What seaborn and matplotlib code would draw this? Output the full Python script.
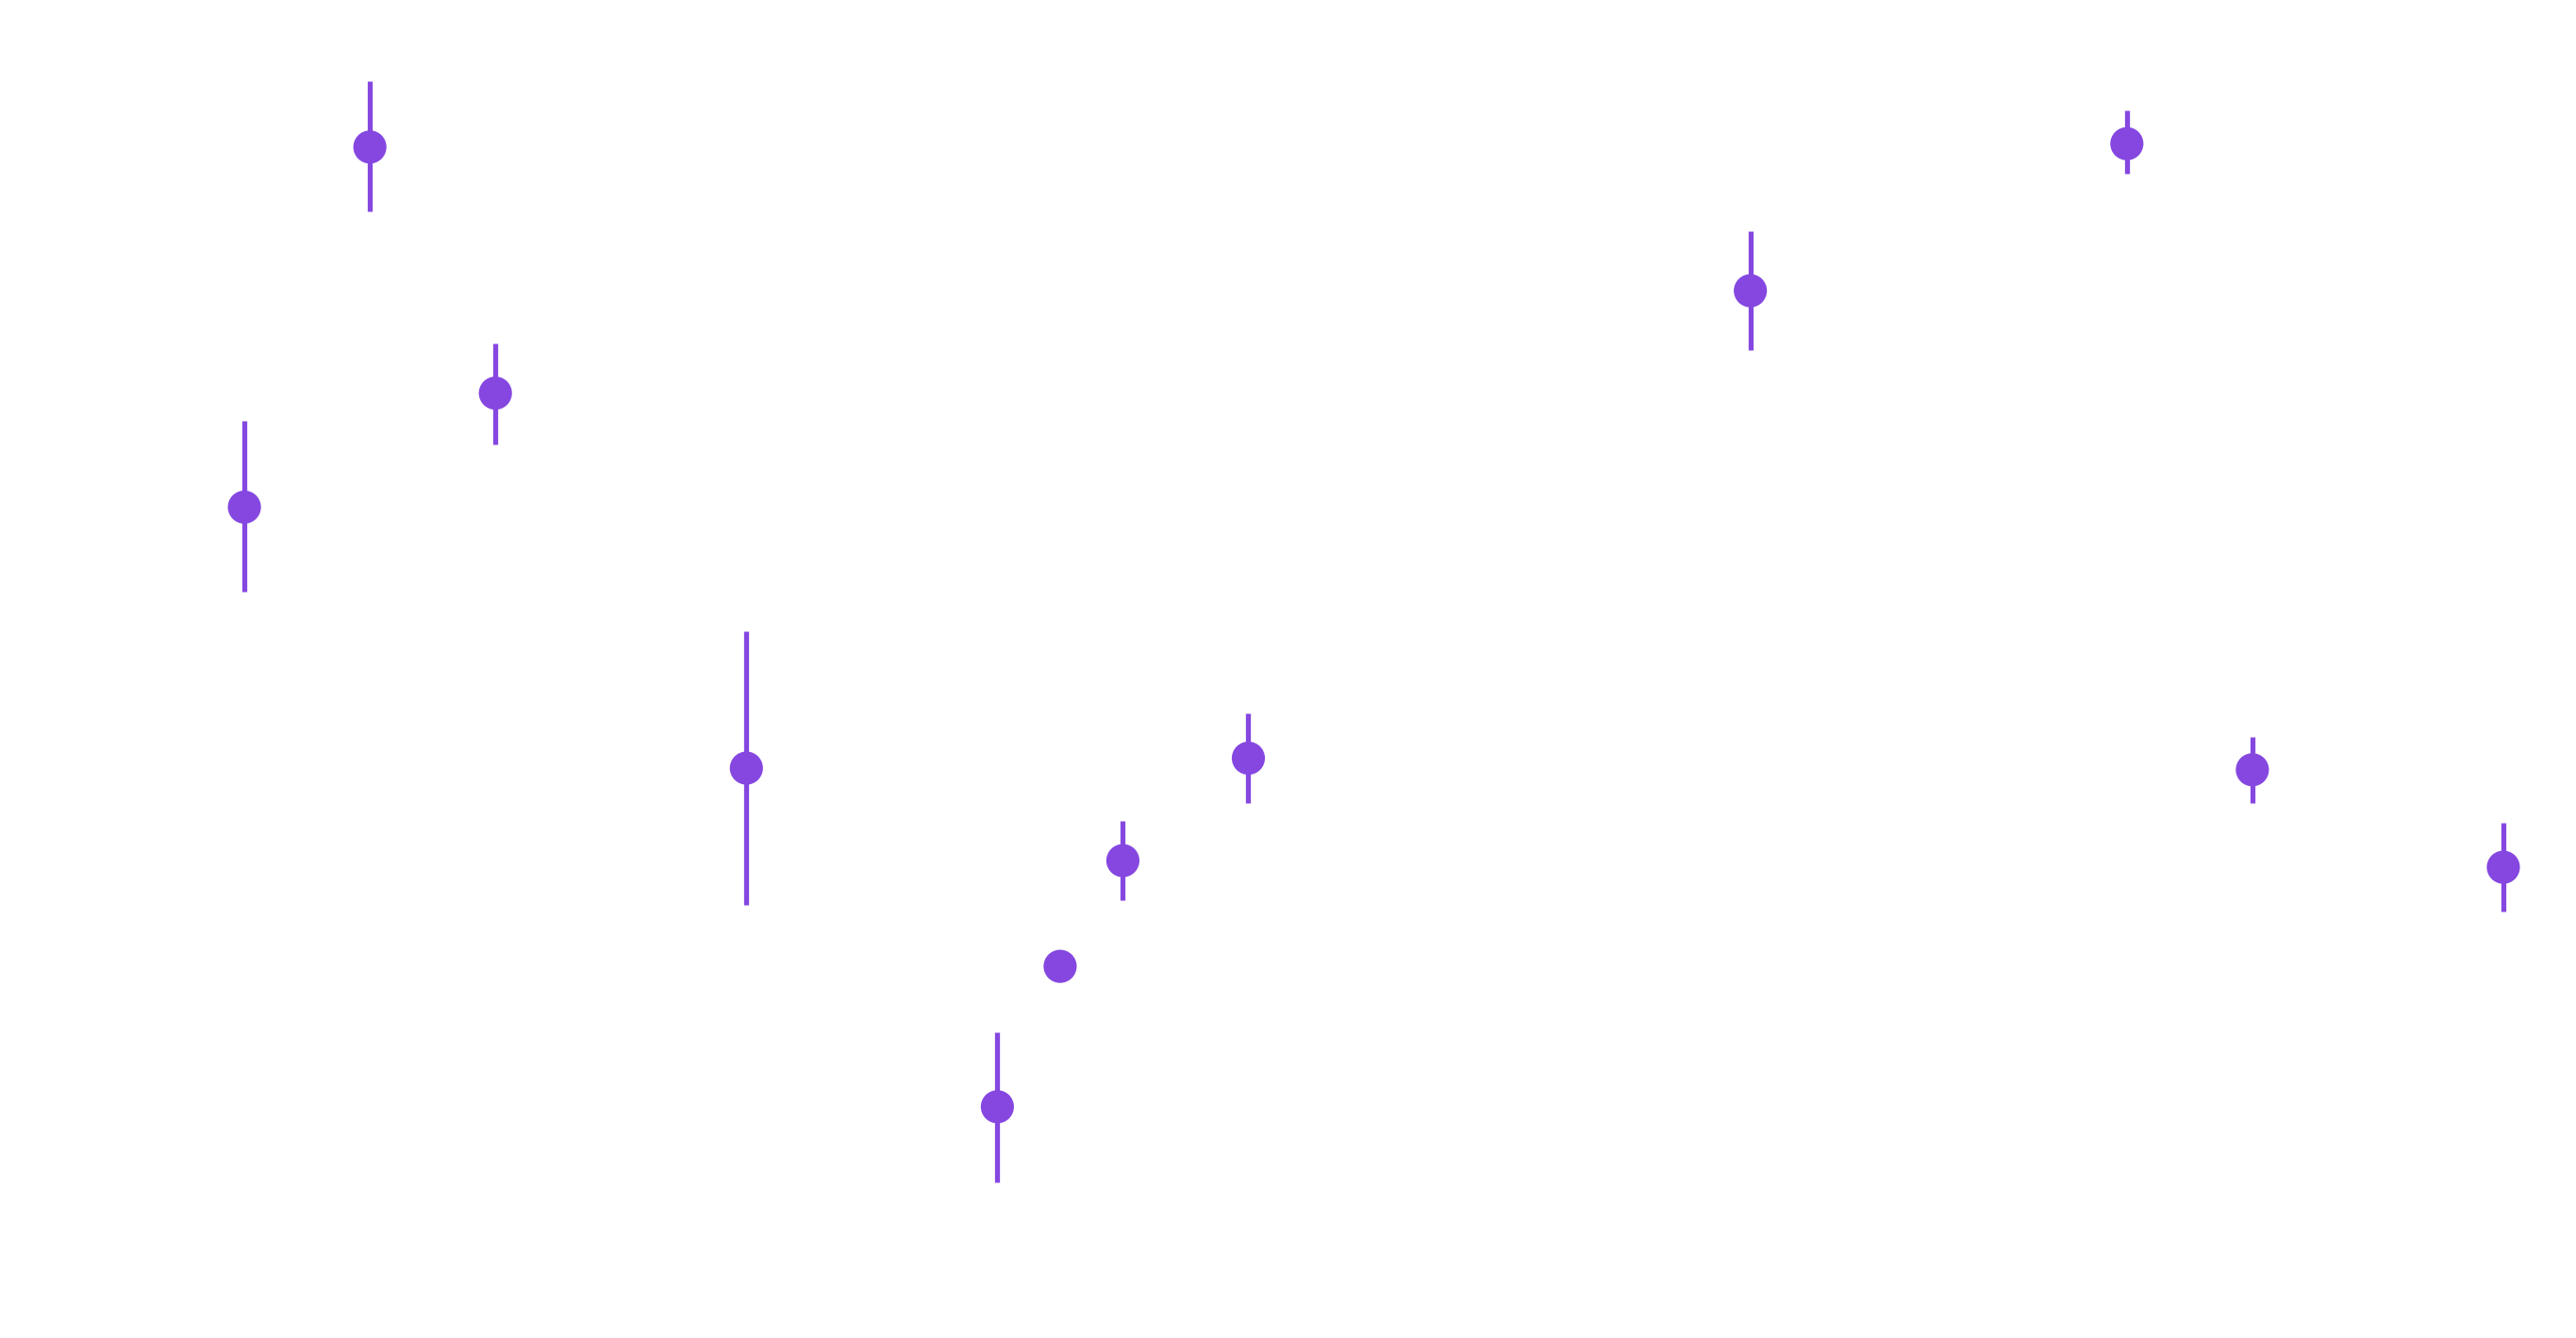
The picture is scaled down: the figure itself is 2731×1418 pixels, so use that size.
import matplotlib
matplotlib.use("Agg")
import matplotlib.pyplot as plt
import seaborn as sns
import pandas as pd
import numpy as np

x_pos = [0, 1, 2, 4, 6, 6.5, 7, 8, 12, 15, 16, 18]
values = [503, 721, 572, 345, 140, 225, 289, 351, 634, 723, 344, 285]
upper = [555, 761, 602, 428, 185, 225, 313, 378, 670, 743, 364, 312]
lower = [452, 682, 541, 262, 94, 225, 265, 324, 598, 705, 324, 258]

df = pd.DataFrame({"x": x_pos, "y": values, "lo": lower, "hi": upper})
color = "#8547E0"

sns.set_style("white")
fig = plt.figure(figsize=(27.31, 14.18), dpi=100)
ax = fig.add_axes([0, 0, 1, 1])
for _, r in df.iterrows():
    if r.hi > r.lo:
        ax.vlines(r.x, r.lo, r.hi, color=color, lw=3.8)
sns.scatterplot(data=df, x="x", y="y", ax=ax, color=color, s=640, edgecolor="none", zorder=3)
ax.set_xlim(-148 / 76, (1560 - 148) / 76)
ax.set_ylim(0, 810)
ax.axis("off")
fig.savefig("out.png", dpi=100)
